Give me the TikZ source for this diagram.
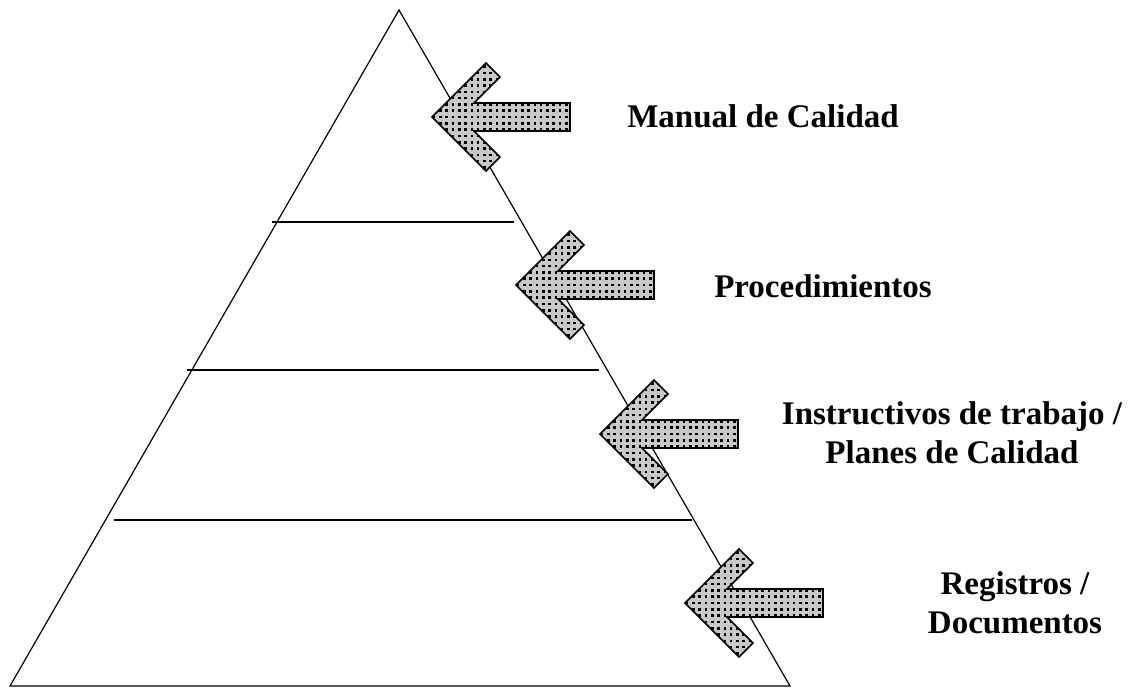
\documentclass[tikz,border=0pt]{standalone}
\usepackage{fontspec}
\setmainfont{Liberation Serif}
\definecolor{arrowgray}{RGB}{200,200,200}
\tikzset{
  outline/.style={draw=black, line width=1.2pt},
  level/.style={draw=black, line width=1.3pt},
  arrowbody/.style={fill=arrowgray},
  arrowdot/.style={fill=black},
  arrowedge/.style={draw=black, line width=1.6pt, line join=miter},
  label/.style={font=\fontsize{33}{39}\selectfont\bfseries, align=center, inner sep=0pt},
  docarrow/.pic={
    \path[arrowbody] (0,0) -- (54,-54) -- (68,-40) -- (42,-14) -- (138,-14) -- (138,14) -- (42,14) -- (68,40) -- (54,54) -- cycle;
    \begin{scope}
      \clip (0,0) -- (54,-54) -- (68,-40) -- (42,-14) -- (138,-14) -- (138,14) -- (42,14) -- (68,40) -- (54,54) -- cycle;
      \foreach \i in {0,...,22} {
        \foreach \j in {-9,...,9} {
          \path[arrowdot] (2+6.3*\i-1.3, 6.3*\j-1.3) rectangle +(2.6,2.6);
        }
      }
    \end{scope}
    \path[arrowedge] (0,0) -- (54,-54) -- (68,-40) -- (42,-14) -- (138,-14) -- (138,14) -- (42,14) -- (68,40) -- (54,54) -- cycle;
  }
}
\begin{document}
\begin{tikzpicture}[x=1pt, y=-1pt]
\useasboundingbox[fill=white] (0,0) rectangle (1134,688);
% pyramid
\coordinate (apex) at (399,10);
\coordinate (bl) at (10,686);
\coordinate (br) at (790,686);
\draw[outline, line join=miter] (apex) -- (bl) -- (br) -- cycle;
% level lines
\coordinate (l1a) at (272,222); \coordinate (l1b) at (514,222);
\coordinate (l2a) at (187,370); \coordinate (l2b) at (599,370);
\coordinate (l3a) at (114,520); \coordinate (l3b) at (692,520);
\draw[level] (l1a) -- (l1b);
\draw[level] (l2a) -- (l2b);
\draw[level] (l3a) -- (l3b);
% arrows
\pic (a1) at (432,117) {docarrow};
\pic (a2) at (516,285) {docarrow};
\pic (a3) at (600,434) {docarrow};
\pic (a4) at (685,603) {docarrow};
% labels
\node[label, anchor=base] (t1) at (763,127) {Manual de Calidad};
\node[label, anchor=base] (t2) at (823,297) {Procedimientos};
\node[label, anchor=center] (t3) at (952,433) {Instructivos de trabajo /\\Planes de Calidad};
\node[label, anchor=center] (t4) at (1015,603) {Registros /\\Documentos};
\end{tikzpicture}
\end{document}
